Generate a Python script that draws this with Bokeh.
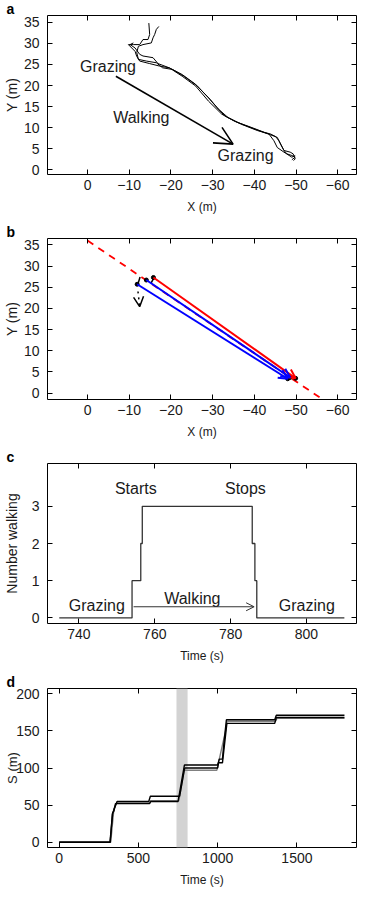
from bokeh.plotting import figure
from bokeh.models import (Range1d, FixedTicker, LinearAxis, Arrow, OpenHead, Title,
                          BoxAnnotation, ColumnDataSource)
from bokeh.layouts import column
from bokeh.embed import file_html
from bokeh.resources import INLINE
from bokeh.core.properties import value

FONT = "Liberation Sans"
TXT = "#1a1a1a"

# ---------------- data ----------------
# panel a: trajectories (X, Y in m)
track1_x = [-14.7, -14.9, -14.5, -13.3, -12.5, -11.0, -9.8, -11.4, -11.8, -12.5, -14.9, -17.3, -19.6,
            -22.7, -25.9, -29.0, -31.0, -32.9, -36.1, -40.0, -43.1, -45.5, -46.3, -47.1, -47.8,
            -49.0, -49.8, -49.0]
track1_y = [34.8, 32.1, 30.9, 30.9, 29.7, 29.7, 29.7, 28.1, 26.9, 25.8, 25.2, 24.6, 24.2,
            22.6, 20.3, 17.1, 14.8, 12.8, 11.2, 9.7, 8.6, 7.7, 6.1, 4.6, 3.8,
            3.4, 3.0, 2.4]
track2_x = [-17.1, -16.5, -16.1, -15.7, -15.3, -13.3, -12.2, -11.8, -12.2, -14.1, -16.5, -18.0, -20.4,
            -23.1, -26.3, -29.4, -31.4, -33.7, -36.9, -40.8, -43.5, -44.7, -45.5, -47.1, -49.0, -49.8]
track2_y = [34.0, 33.3, 32.1, 31.3, 30.1, 29.7, 29.3, 27.8, 26.2, 25.8, 25.4, 24.2, 23.8,
            22.2, 19.9, 16.7, 14.4, 12.4, 10.8, 9.3, 8.5, 6.9, 5.3, 4.2, 3.0, 3.4]
track3_x = [-11.0, -10.2, -11.4, -12.5, -13.3, -15.7, -16.9, -19.6, -22.7, -25.9, -29.0, -32.2,
            -35.3, -39.2, -42.4, -43.9, -45.1, -45.9, -47.1, -48.6, -49.3, -49.8, -49.4]
track3_y = [30.1, 29.7, 28.9, 27.4, 27.0, 26.6, 25.2, 24.2, 22.2, 19.9, 16.3, 13.2,
            11.5, 10.1, 8.9, 8.5, 7.9, 6.9, 4.6, 4.2, 3.8, 2.6, 2.2]
walk_arrow_a = [-6.8, 22.2, -34.9, 6.1]          # x0, y0, x1, y1
labels_a = ["Grazing", "Walking", "Grazing"]
labels_a_x = [-4.9, -12.9, -37.9]
labels_a_y = [24.4, 12.4, 3.4]

xticks_ab = [0, -10, -20, -30, -40, -50, -60]
xtick_labels_ab = ["0", "\u221210", "\u221220", "\u221230", "\u221240", "\u221250", "\u221260"]
yticks_ab = [0, 5, 10, 15, 20, 25, 30, 35]

# panel b: direction line and arrows
dir_line_x = [0, -57]
dir_line_y = [36.0, -1.9]
red_x0, red_y0, red_x1, red_y1 = [-15.8], [27.3], [-49.9], [3.5]
blue_x0, blue_y0 = [-14.1, -11.9], [26.7, 25.7]
blue_x1, blue_y1 = [-48.6, -48.0], [3.7, 3.4]
mark_x0, mark_y0, mark_x1, mark_y1 = [-12.6, -16.0], [27.4, 27.4], [-12.1, -15.2], [25.8, 25.9]
small_arrow_b = [-12.1, 24.0, -12.5, 20.4]

# panel c: number walking
t_steps = [734.8, 754.0, 756.3, 756.7, 785.7, 786.4, 786.9, 810.0]
n_walking = [0, 1, 2, 3, 2, 1, 0, 0]
walk_arrow_c = [754.4, 0.3, 786.2, 0.3]
labels_c = ["Starts", "Stops", "Grazing", "Walking", "Grazing"]
labels_c_x = [755.0, 783.9, 744.7, 769.9, 800.1]
labels_c_y = [3.48, 3.48, 0.33, 0.51, 0.33]
xticks_c = [740, 760, 780, 800]
yticks_c = [0, 1, 2, 3]

# panel d: cumulative distance
t_d1 = [0, 320, 338, 345, 355, 570, 578, 750, 790, 1000, 1010, 1030, 1040, 1055, 1360, 1370, 1800]
s_d1 = [0, 0, 40, 42, 52, 52, 55, 55, 104, 104, 112, 112, 135, 165, 165, 171, 171]
t_d2 = [0, 322, 335, 365, 565, 575, 760, 792, 1000, 1005, 1030, 1058, 1360, 1370, 1800]
s_d2 = [0, 0, 38, 55, 55, 62, 62, 100, 100, 107, 107, 160, 160, 168, 168]
t_d3 = [0, 325, 345, 362, 570, 575, 755, 788, 995, 1010, 1050, 1058, 1365, 1375, 1800]
s_d3 = [0, 0, 45, 53, 53, 56, 56, 97, 97, 112, 150, 163, 163, 167, 167]
band_d = [740, 810]
xticks_d = [0, 500, 1000, 1500]
yticks_d = [0, 50, 100, 150, 200]


def make_fig(h, top, bottom, xr, yr, xticks, yticks, xlabel, ylabel, letter, xlabels=None,
             ylab_standoff=1, ylab_size="14px"):
    p = figure(width=358, height=h, x_range=xr, y_range=yr, output_backend="svg",
               toolbar_location=None, min_border_left=41, min_border_right=2,
               min_border_top=top, min_border_bottom=bottom)
    p.xgrid.visible = False
    p.ygrid.visible = False
    p.outline_line_color = "black"
    p.outline_line_width = 1
    p.outline_line_alpha = 1
    p.background_fill_color = "white"
    p.border_fill_color = "white"
    for ax in (p.xaxis[0], p.yaxis[0]):
        ax.axis_line_color = None
        ax.major_tick_in = 5
        ax.major_tick_out = 0
        ax.minor_tick_line_color = None
        ax.major_tick_line_color = "black"
        ax.major_label_text_font = FONT
        ax.major_label_text_font_size = "14px"
        ax.major_label_text_color = TXT
        ax.axis_label_text_font = FONT
        ax.axis_label_text_font_style = "normal"
        ax.axis_label_text_color = TXT
    p.xaxis[0].axis_label_text_font_size = "12px"
    p.yaxis[0].axis_label_text_font_size = ylab_size
    p.xaxis[0].ticker = FixedTicker(ticks=xticks)
    p.yaxis[0].ticker = FixedTicker(ticks=yticks)
    if xlabels is not None:
        p.xaxis[0].major_label_overrides = {float(t): l for t, l in zip(xticks, xlabels)}
    p.xaxis[0].axis_label = xlabel
    p.yaxis[0].axis_label = ylabel
    p.xaxis[0].major_label_standoff = 5
    p.xaxis[0].axis_label_standoff = 7
    p.yaxis[0].major_label_standoff = 8
    p.yaxis[0].axis_label_standoff = ylab_standoff
    # mirrored ticks on top and right (labels not painted)
    for place, tk in (("above", xticks), ("right", yticks)):
        ax = LinearAxis(ticker=FixedTicker(ticks=tk), major_label_text_font_size="1px",
                        major_label_text_color=None, major_label_text_alpha=0,
                        major_label_standoff=0, axis_line_color=None, major_tick_in=5,
                        major_tick_out=0, minor_tick_line_color=None)
        p.add_layout(ax, place)
    # panel letter
    t = Title(text=letter, align="left", offset=-41, text_font=FONT, text_font_style="bold",
              text_font_size="14px", text_color="black", vertical_align="bottom")
    if "standoff" in t.properties():
        t.standoff = -3
    p.add_layout(t, "above")
    return p


def add_texts(p, xs, ys, texts):
    src = ColumnDataSource(dict(x=xs, y=ys, t=texts))
    p.text(x="x", y="y", text="t", source=src, text_font=value(FONT), text_font_size="16px",
           text_color=TXT, text_align="center", text_baseline="middle")


# ---------------- panel a ----------------
pa = make_fig(223, 14, 49, Range1d(9.6, -64.5), Range1d(-1.1, 36.6), xticks_ab, yticks_ab,
              "X (m)", "Y (m)", "a", xtick_labels_ab)
for tx, ty in ((track1_x, track1_y), (track2_x, track2_y), (track3_x, track3_y)):
    pa.line(tx, ty, line_color="black", line_width=1)
pa.add_layout(Arrow(end=OpenHead(size=18, line_width=1.6, line_color="black"),
                    x_start=walk_arrow_a[0], y_start=walk_arrow_a[1],
                    x_end=walk_arrow_a[2], y_end=walk_arrow_a[3],
                    line_width=1.6, line_color="black"))
add_texts(pa, labels_a_x, labels_a_y, labels_a)

# ---------------- panel b ----------------
pb = make_fig(225, 15, 49, Range1d(9.6, -64.5), Range1d(-1.5, 36.5), xticks_ab, yticks_ab,
              "X (m)", "Y (m)", "b", xtick_labels_ab)
pb.line(dir_line_x, dir_line_y, line_color="red", line_width=1.8, line_dash="7 6")
for i in range(len(red_x0)):
    pb.add_layout(Arrow(end=OpenHead(size=9, line_width=2, line_color="red"),
                        x_start=red_x0[i], y_start=red_y0[i], x_end=red_x1[i], y_end=red_y1[i],
                        line_width=2, line_color="red"))
for i in range(len(blue_x0)):
    pb.add_layout(Arrow(end=OpenHead(size=9, line_width=2, line_color="blue"),
                        x_start=blue_x0[i], y_start=blue_y0[i], x_end=blue_x1[i], y_end=blue_y1[i],
                        line_width=2, line_color="blue"))
pb.segment(mark_x0, mark_y0, mark_x1, mark_y1, line_color="black", line_width=1.5)
pb.scatter(red_x0 + blue_x0, red_y0 + blue_y0, size=4, color="black")
pb.scatter(red_x1 + blue_x1, red_y1 + blue_y1, size=4, color="black")
pb.add_layout(Arrow(end=OpenHead(size=10, line_width=1.5, line_color="black"),
                    x_start=small_arrow_b[0], y_start=small_arrow_b[1],
                    x_end=small_arrow_b[2], y_end=small_arrow_b[3],
                    line_width=1.5, line_color="black", line_dash="dotted"))

# ---------------- panel c ----------------
pc = make_fig(225, 15, 50, Range1d(731.7, 813.2), Range1d(-0.15, 4.15), xticks_c, yticks_c,
              "Time (s)", "Number walking", "c", ylab_standoff=9)
pc.step(t_steps, n_walking, mode="after", line_color="#333333", line_width=1.3)
pc.add_layout(Arrow(end=OpenHead(size=8, line_width=1, line_color="#333333"),
                    x_start=walk_arrow_c[0], y_start=walk_arrow_c[1],
                    x_end=walk_arrow_c[2], y_end=walk_arrow_c[3],
                    line_width=1, line_color="#333333"))
add_texts(pc, labels_c_x, labels_c_y, labels_c)

# ---------------- panel d ----------------
pd_ = make_fig(216, 15, 42, Range1d(-74, 1876), Range1d(-7, 207), xticks_d, yticks_d,
               "Time (s)", "S (m)", "d", ylab_standoff=-7, ylab_size="13px")
pd_.add_layout(BoxAnnotation(left=band_d[0], right=band_d[1], fill_color="#d3d3d3",
                             fill_alpha=1, line_color=None, level="underlay"))
pd_.line(t_d3, s_d3, line_color="#808080", line_width=1.4)
pd_.line(t_d2, s_d2, line_color="black", line_width=1.4)
pd_.line(t_d1, s_d1, line_color="black", line_width=1.4)

layout = column(pa, pb, pc, pd_, spacing=0)
open("out.html", "w").write(file_html(layout, INLINE))
